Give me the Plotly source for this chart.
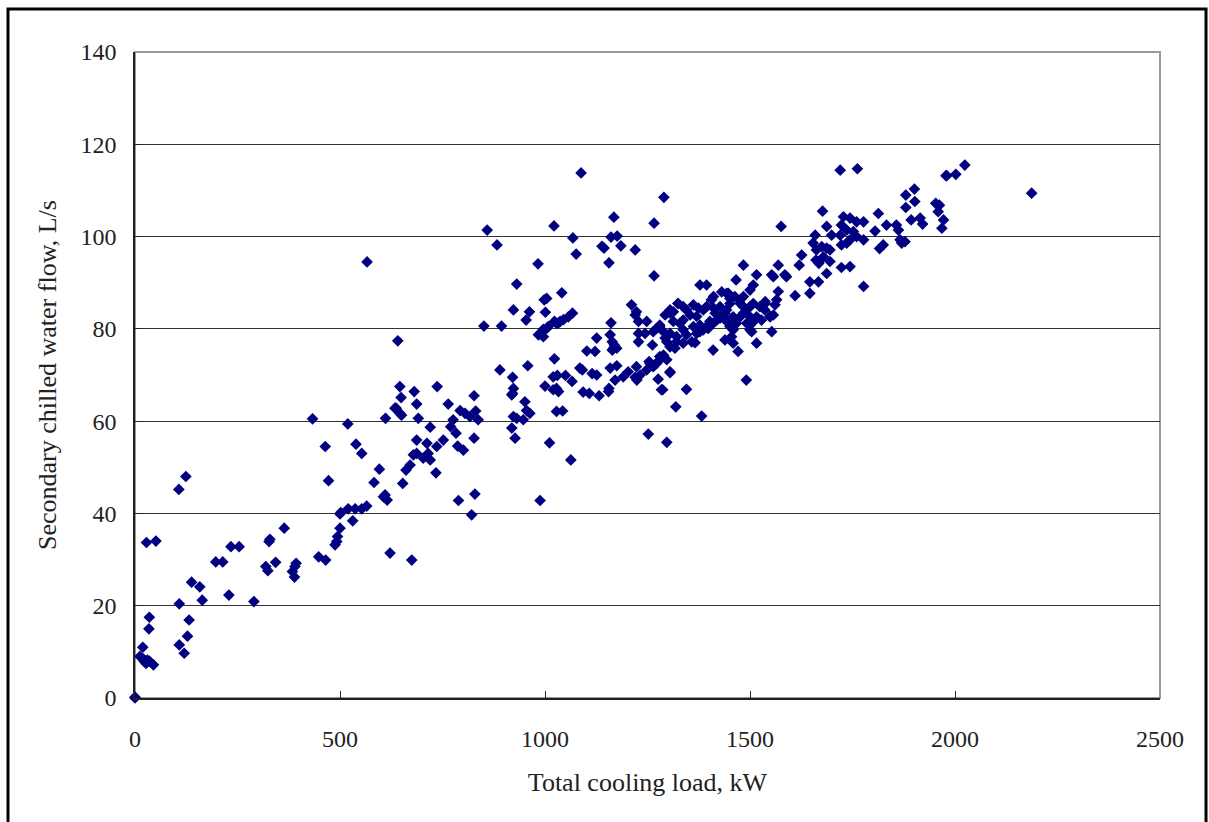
import plotly.graph_objects as go

# Total cooling load (kW) and secondary chilled water flow (L/s)
load_kw = [
    0, 0, 19, 12, 20, 27, 35, 45, 30, 22, 34, 35, 28, 51,
    107, 124, 108, 108, 120, 128, 132, 138, 158, 164,
    197, 214, 229, 234, 254, 290, 319, 324, 327, 329, 343, 364, 384, 389, 393, 390,
    433, 448, 465, 464, 472, 488, 492, 494, 500, 500, 502,
    519, 520, 537, 553, 565, 531, 539, 553, 583, 596, 610, 615, 611, 622, 634, 646,
    566, 641, 646, 649, 681, 687, 637, 650, 691, 737, 764, 827,
    793, 805, 817, 831, 837, 776, 770, 783, 720,
    752, 736, 712, 687, 687, 715, 720, 703, 679, 671, 661, 653, 606, 787, 801, 827, 734, 789, 829, 821, 675,
    923, 931, 947, 963, 955, 951, 919, 927, 1011, 1063, 988,
    931, 1041, 1004, 998, 923, 962, 1001, 954, 1067, 1057, 1045, 1033, 1023, 851, 894,
    996, 988, 984, 996, 1004, 1008, 1028, 1037,
    1211, 1223, 1220, 1161, 1159, 1164, 1169, 1175, 1167, 1164, 1126, 1102, 1122,
    1228, 1248, 1244, 1228, 1228, 1262,
    1279, 1293, 1305, 1313, 1324, 1293, 1297, 1305, 1317, 1289, 1297, 1305, 1276, 1287, 1319,
    890, 921, 923, 921, 919, 958, 1023, 1000, 1020, 1028, 1033, 1030, 1050, 1066, 1028, 1043,
    1085, 1091, 1115, 1126, 1093, 1108, 1132, 1159, 1175, 1171, 1156, 1155,
    1191, 1203, 1224, 1220, 1232, 1248, 1254, 1268, 1280, 1252, 1297, 1223, 1020,
    1088, 859, 883, 1168, 1161, 1176, 1185, 1068, 1076, 1022, 983, 1220, 1144, 1156, 1266, 1139,
    1720, 1762, 1978, 1290, 1266, 1576, 1677, 1813, 1880, 1901, 1902, 1880, 1953, 1962, 1959, 1972, 1968,
    1893, 1915, 1921,
    1833, 1857, 1862, 1866, 1878, 1870, 1825, 1816, 1777, 1805,
    1728, 1744, 1760, 1777, 1723, 1736, 1752, 1720, 1699, 1687, 1723, 1736, 1744, 1760,
    1659, 1654, 1662, 1675, 1687, 1695, 1679, 1668, 1695, 1687, 1723, 1744, 1777, 1661,
    1626, 1620, 1646, 1667, 1646, 1610,
    1569, 1589, 1585, 1557, 1553, 1569, 1565, 1561, 1549, 1557, 1553, 1491, 1516, 1537, 1524,
    1484, 1516, 1508, 1500, 1484, 1476, 1466, 1447, 1431, 1411, 1394, 1378, 1411, 1427, 1439, 1459,
    1484, 1500, 1516, 1537,
    1362, 1374, 1370, 1354, 1337, 1329, 1313, 1305, 1325, 1280, 1272, 1264, 1289, 1305, 1321, 1337,
    1345, 1362, 1378, 1394, 1402, 1410, 1419, 1427, 1435, 1443, 1451, 1459, 1467, 1476, 1484, 1492,
    1500, 1508, 1512, 1500, 1492, 1476, 1463, 1451, 1443, 1415, 1406, 1398, 1386, 1378, 1370, 1358,
    1337, 1321, 1280, 1272, 1264, 1256, 1305, 1284, 1345, 1382, 1471, 1410, 1366, 1439, 1455, 1459,
    1500, 1504, 1516, 1536, 1528, 1549, 1443, 1451, 1337, 1345, 1394, 1386,
    2024, 1980, 2002, 2187,
]
flow_ls = [
    0, 0.2, 11.0, 9.0, 8.5, 7.5, 8.0, 7.2, 8.2, 8.0, 15.0, 17.5, 33.7, 34.0,
    45.2, 48.0, 20.4, 11.5, 9.7, 13.4, 16.9, 25.1, 24.1, 21.2,
    29.5, 29.5, 22.3, 32.8, 32.8, 20.9, 28.5, 27.6, 33.9, 34.4, 29.4, 36.8, 27.4, 26.2, 29.2, 28.5,
    60.5, 30.6, 29.9, 54.5, 47.1, 33.2, 33.9, 35.0, 36.8, 39.9, 40.2,
    59.4, 41.0, 41.0, 41.0, 41.6, 38.4, 55.0, 53.0, 46.7, 49.6, 44.0, 42.9, 60.6, 31.4, 62.8, 61.7,
    94.5, 77.4, 67.5, 65.1, 66.4, 63.7, 62.8, 61.3, 60.6, 67.5, 63.7, 65.5,
    62.3, 61.7, 61.0, 62.2, 60.3, 60.3, 58.8, 57.4, 58.7,
    55.9, 54.5, 55.2, 55.9, 53.0, 53.0, 51.6, 52.0, 52.7, 50.5, 49.4, 46.5, 43.6, 54.6, 53.7, 56.3, 48.8, 42.8, 44.2, 39.7, 29.9,
    61.0, 60.6, 60.3, 61.7, 62.3, 64.2, 58.5, 56.3, 55.3, 51.6, 42.8,
    89.7, 87.8, 86.6, 86.3, 84.1, 83.7, 83.6, 81.9, 83.4, 82.6, 82.0, 81.3, 81.6, 80.6, 80.6,
    79.9, 79.0, 78.7, 78.3, 80.1, 80.5, 81.2, 81.6,
    85.2, 83.7, 83.0, 81.3, 78.7, 77.2, 76.5, 75.8, 75.8, 75.4, 78.0, 75.2, 75.1,
    81.6, 81.6, 79.0, 79.0, 77.2, 76.5,
    80.5, 83.0, 84.1, 83.7, 85.5, 78.0, 77.2, 76.1, 75.8, 74.3, 73.3, 70.5, 69.1, 66.8, 63.1,
    71.1, 69.5, 67.1, 66.0, 65.7, 72.0, 73.5, 67.6, 66.8, 67.1, 66.4, 69.9, 69.9, 68.6, 62.1, 62.2,
    71.5, 71.1, 70.3, 70.0, 66.3, 66.0, 65.5, 71.5, 72.0, 68.9, 67.1, 66.4,
    69.6, 70.7, 68.9, 69.5, 70.0, 71.1, 72.9, 72.2, 74.0, 57.2, 55.4, 71.8, 69.6,
    113.8, 101.4, 98.2, 104.2, 99.9, 100.1, 98.0, 99.7, 96.2, 102.3, 94.1, 97.1, 97.5, 94.3, 91.5, 97.9,
    114.4, 114.7, 113.2, 108.5, 102.9, 102.2, 105.5, 105.0, 109.0, 110.3, 107.6, 106.3, 107.2, 106.8, 105.4, 103.6, 101.8,
    103.6, 104.0, 102.7,
    102.5, 102.5, 101.4, 99.3, 98.9, 98.6, 98.2, 97.4, 99.3, 101.2,
    104.3, 104.0, 103.2, 103.2, 102.5, 101.4, 101.1, 100.3, 100.3, 102.2, 98.2, 98.6, 99.3, 100.0,
    100.3, 98.6, 97.1, 97.8, 97.5, 97.1, 95.6, 94.2, 94.6, 92.0, 93.3, 93.5, 89.2, 94.9,
    96.0, 93.8, 90.2, 90.2, 87.7, 87.2,
    93.8, 91.3, 91.7, 91.3, 91.7, 88.1, 86.3, 85.2, 82.6, 83.0, 79.4, 68.9, 76.9, 85.9, 84.8,
    93.8, 91.7, 89.5, 88.4, 87.0, 86.3, 90.6, 87.7, 88.0, 87.0, 89.5, 89.5, 84.5, 84.8, 83.4, 82.6,
    84.8, 82.6, 82.6, 85.5,
    85.2, 84.5, 82.7, 83.0, 81.9, 81.2, 81.6, 83.4, 85.5, 80.8, 80.1, 79.4, 79.4, 79.0, 78.3, 79.8,
    78.7, 80.5, 80.8, 80.5, 81.6, 81.2, 81.9, 82.3, 82.6, 81.6, 80.5, 79.8, 81.2, 82.6, 83.4, 84.1,
    84.8, 85.5, 81.9, 80.8, 81.2, 85.5, 87.0, 85.5, 84.1, 83.4, 86.3, 80.1, 79.8, 79.4, 79.0, 77.2,
    76.9, 77.2, 73.3, 72.5, 71.8, 72.5, 70.7, 66.8, 66.9, 61.1, 75.1, 75.4, 77.0, 77.6, 78.3, 76.9,
    79.8, 79.4, 82.3, 84.1, 81.9, 82.7, 87.7, 86.6, 84.8, 84.1, 84.8, 84.1,
    115.5, 113.2, 113.5, 109.4,
]

x_ticks = [0, 500, 1000, 1500, 2000, 2500]
y_ticks = [0, 20, 40, 60, 80, 100, 120, 140]

FONT = "Liberation Serif"
TXT = "#222222"

fig = go.Figure()
fig.add_trace(go.Scatter(
    x=load_kw, y=flow_ls, mode="markers",
    marker=dict(symbol="diamond", size=9, color="#000080", line=dict(width=0)),
    showlegend=False, cliponaxis=False,
))

fig.update_layout(
    width=1209, height=822,
    margin=dict(l=135, r=49, t=52, b=124),
    paper_bgcolor="white", plot_bgcolor="white",
    font=dict(family=FONT, size=24, color=TXT),
    xaxis=dict(
        range=[0, 2500], tickvals=x_ticks, ticktext=[str(v) for v in x_ticks],
        showgrid=False, zeroline=False, showline=True, linecolor="#222", linewidth=1.5,
        ticks="inside", ticklen=7, tickcolor="#222", ticklabelstandoff=18,
        tickfont=dict(family=FONT, size=24, color=TXT),
        title=dict(text="Total cooling load, kW", font=dict(family=FONT, size=26, color=TXT), standoff=22),
    ),
    yaxis=dict(
        range=[0, 140], tickvals=y_ticks, ticktext=[str(v) for v in y_ticks],
        showgrid=True, gridcolor="#333", gridwidth=1, zeroline=False,
        showline=True, linecolor="#222", linewidth=1.5,
        ticks="inside", ticklen=7, tickcolor="#222", ticklabelstandoff=12,
        tickfont=dict(family=FONT, size=24, color=TXT),
        title=dict(text="Secondary chilled water flow, L/s", font=dict(family=FONT, size=26, color=TXT), standoff=16),
    ),
    shapes=[
        dict(type="rect", xref="x domain", yref="y domain", x0=0, x1=1, y0=0, y1=1,
             line=dict(color="#999999", width=2), layer="below"),
        dict(type="rect", xref="paper", yref="paper", x0=-0.1239, x1=1.0449, y0=-0.21, y1=1.0666,
             line=dict(color="black", width=3), layer="below"),
    ],
)

fig.write_html("out.html")
